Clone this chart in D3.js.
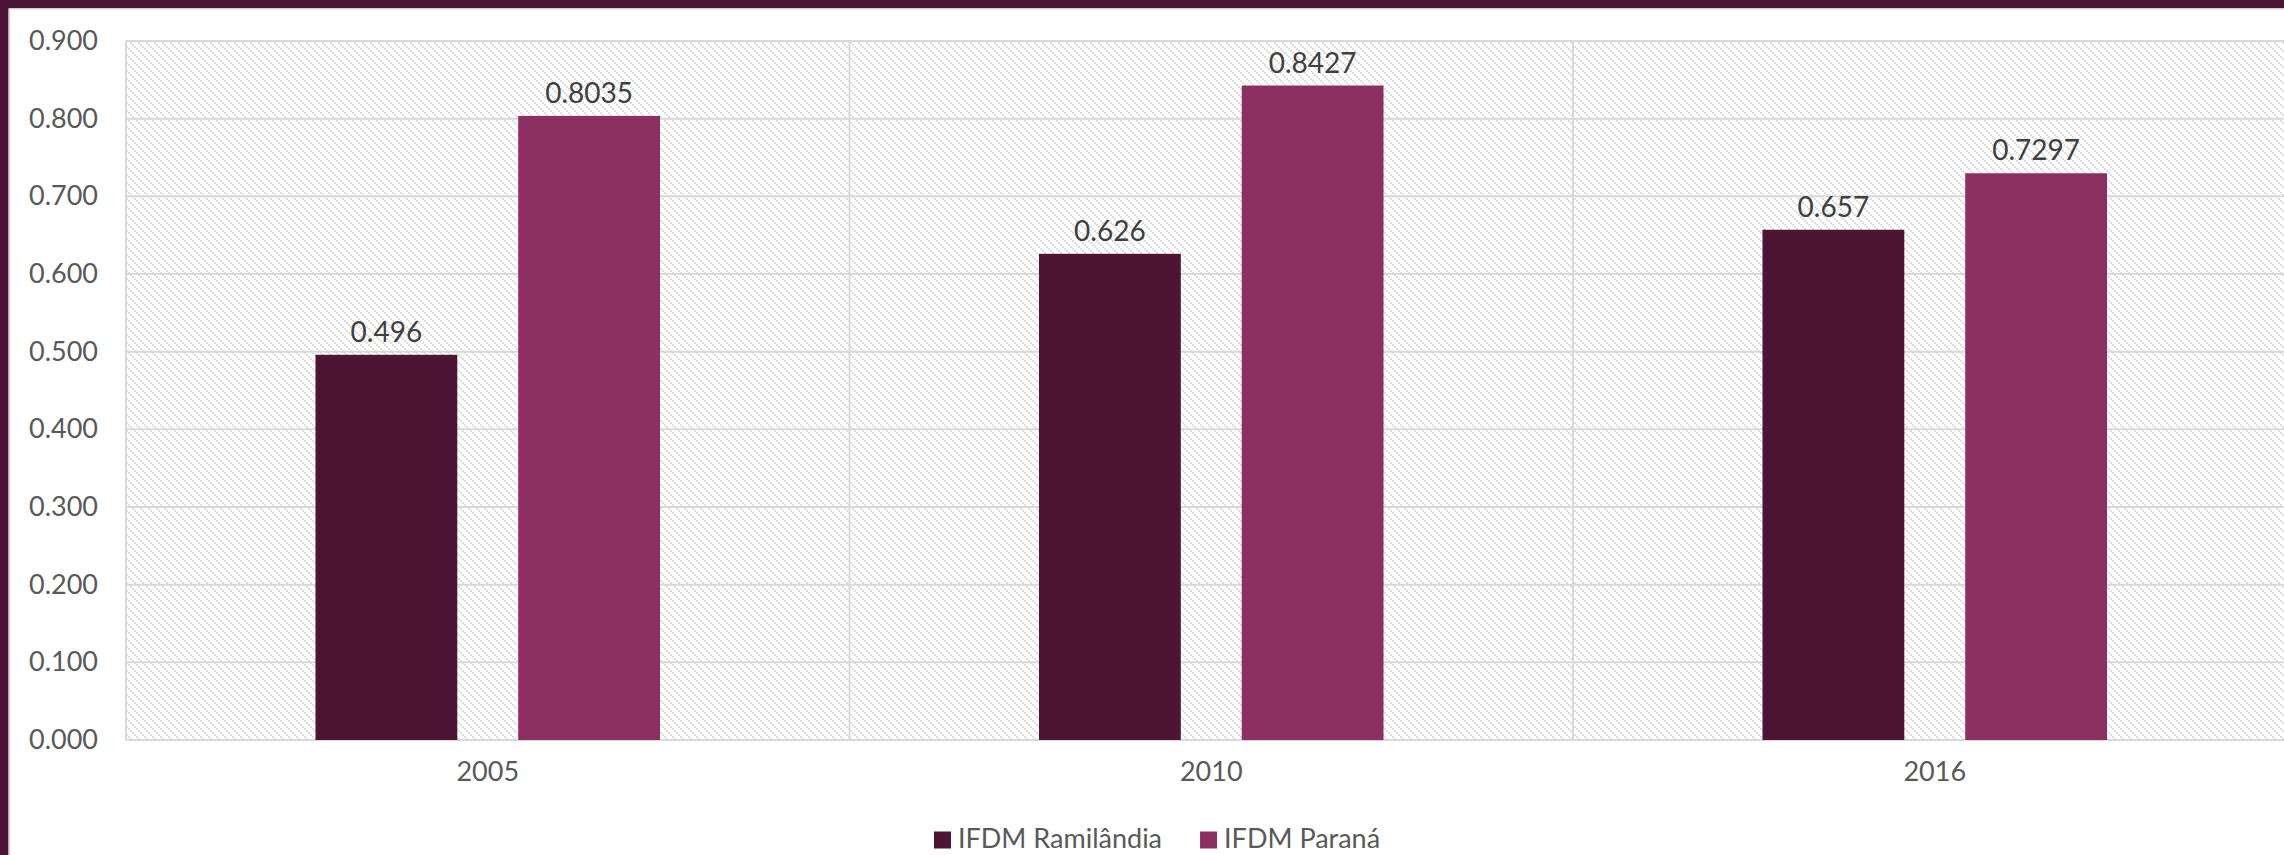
<!DOCTYPE html>
<html>
<head>
<meta charset="utf-8">
<script src="https://cdn.jsdelivr.net/npm/d3@7"></script>
<style>
  html, body { margin: 0; padding: 0; background: #ffffff; }
  svg { display: block; }
  text { font-family: Lato, "Open Sans", sans-serif; }
</style>
</head>
<body>
<svg id="chart" width="2284" height="855"></svg>
<script>
// IFDM index by year: Ramilândia vs. Paraná
const years = ["2005", "2010", "2016"];
const seriesNames = ["IFDM Ramilândia", "IFDM Paraná"];
const ramilandia = [0.496, 0.626, 0.657];
const parana = [0.8035, 0.8427, 0.7297];
const labelsRamilandia = ["0.496", "0.626", "0.657"];
const labelsParana = ["0.8035", "0.8427", "0.7297"];
const yTicks = [0, 0.1, 0.2, 0.3, 0.4, 0.5, 0.6, 0.7, 0.8, 0.9];

const colors = ["#4d1434", "#8c3062"];
const values = [ramilandia, parana];
const labels = [labelsRamilandia, labelsParana];

const W = 2284, H = 855;
const plot = { left: 126, top: 41, bottom: 740, right: 2296.5 };

const svg = d3.select("#chart");

// frame accents on the top and left edges
svg.append("rect").attr("x", 0).attr("y", 0).attr("width", W).attr("height", 8).attr("fill", "#4d1434");
svg.append("rect").attr("x", 0).attr("y", 8).attr("width", W).attr("height", 1.5).attr("fill", "#d0d0d0");
svg.append("rect").attr("x", 0).attr("y", 0).attr("width", 8.5).attr("height", H).attr("fill", "#4d1434");
svg.append("rect").attr("x", 8.5).attr("y", 9.5).attr("width", 1.5).attr("height", H).attr("fill", "#d0d0d0");

// diagonal dotted hatch for the plot background
const defs = svg.append("defs");
const pat = defs.append("pattern")
  .attr("id", "hatch")
  .attr("patternUnits", "userSpaceOnUse")
  .attr("width", 8).attr("height", 8);
pat.append("rect").attr("width", 8).attr("height", 8).attr("fill", "#ffffff");
d3.range(4).forEach(k => {
  pat.append("rect")
    .attr("x", 2 * k).attr("y", 2 * k)
    .attr("width", 2).attr("height", 2)
    .attr("fill", "#dedede");
});

const x = d3.scaleBand().domain(years).range([plot.left, plot.right]).paddingInner(0).paddingOuter(0);
const xInner = d3.scaleBand().domain(seriesNames).range([0, x.bandwidth()])
  .paddingInner(0.3005).paddingOuter(0.9347);
const y = d3.scaleLinear().domain([0, 0.9]).range([plot.bottom, plot.top]);

svg.append("rect")
  .attr("x", plot.left).attr("y", plot.top)
  .attr("width", plot.right - plot.left).attr("height", plot.bottom - plot.top)
  .attr("fill", "url(#hatch)");

// horizontal gridlines
svg.append("g")
  .selectAll("line")
  .data(yTicks)
  .join("line")
  .attr("x1", plot.left).attr("x2", plot.right)
  .attr("y1", d => y(d)).attr("y2", d => y(d))
  .attr("stroke", "#d9d9d9").attr("stroke-width", 2);

// vertical category dividers
const dividers = years.map(d => x(d)).concat([x(years[years.length - 1]) + x.bandwidth()]);
svg.append("g")
  .selectAll("line")
  .data(dividers)
  .join("line")
  .attr("x1", d => d).attr("x2", d => d)
  .attr("y1", plot.top).attr("y2", plot.bottom)
  .attr("stroke", "#d9d9d9").attr("stroke-width", 2);

// y-axis tick labels
const yAxis = d3.axisLeft(y).tickValues(yTicks).tickFormat(d3.format(".3f")).tickSize(0).tickPadding(28);
const gy = svg.append("g").attr("transform", `translate(${plot.left},0)`).call(yAxis);
gy.select(".domain").remove();
gy.selectAll("text")
  .attr("font-family", "Lato, 'Open Sans', sans-serif")
  .attr("font-size", 27).attr("fill", "#595959");

// x-axis labels
const xAxis = d3.axisBottom(x).tickSize(0).tickPadding(22);
const gx = svg.append("g").attr("transform", `translate(0,${plot.bottom})`).call(xAxis);
gx.select(".domain").remove();
gx.selectAll("text")
  .attr("font-family", "Lato, 'Open Sans', sans-serif")
  .attr("font-size", 27).attr("fill", "#595959");

// bars and value labels
seriesNames.forEach((s, si) => {
  const g = svg.append("g");
  g.selectAll("rect")
    .data(years)
    .join("rect")
    .attr("x", (d) => x(d) + xInner(s))
    .attr("y", (d, i) => y(values[si][i]))
    .attr("width", xInner.bandwidth())
    .attr("height", (d, i) => y(0) - y(values[si][i]))
    .attr("fill", colors[si]);
  g.selectAll("text")
    .data(years)
    .join("text")
    .attr("x", (d) => x(d) + xInner(s) + xInner.bandwidth() / 2)
    .attr("y", (d, i) => y(values[si][i]) - 13)
    .attr("text-anchor", "middle")
    .attr("font-size", 28)
    .attr("fill", "#404040")
    .text((d, i) => labels[si][i]);
});

// legend
const legend = svg.append("g").attr("transform", "translate(934,848)");
let lx = 0;
seriesNames.forEach((s, si) => {
  const item = legend.append("g").attr("transform", `translate(${lx},0)`);
  item.append("rect").attr("x", 0).attr("y", -16.5).attr("width", 17).attr("height", 17).attr("fill", colors[si]);
  const t = item.append("text").attr("x", 24).attr("y", 0)
    .attr("font-size", 27).attr("fill", "#595959").text(s);
  lx += 24 + t.node().getComputedTextLength() + 38;
});
</script>
</body>
</html>
